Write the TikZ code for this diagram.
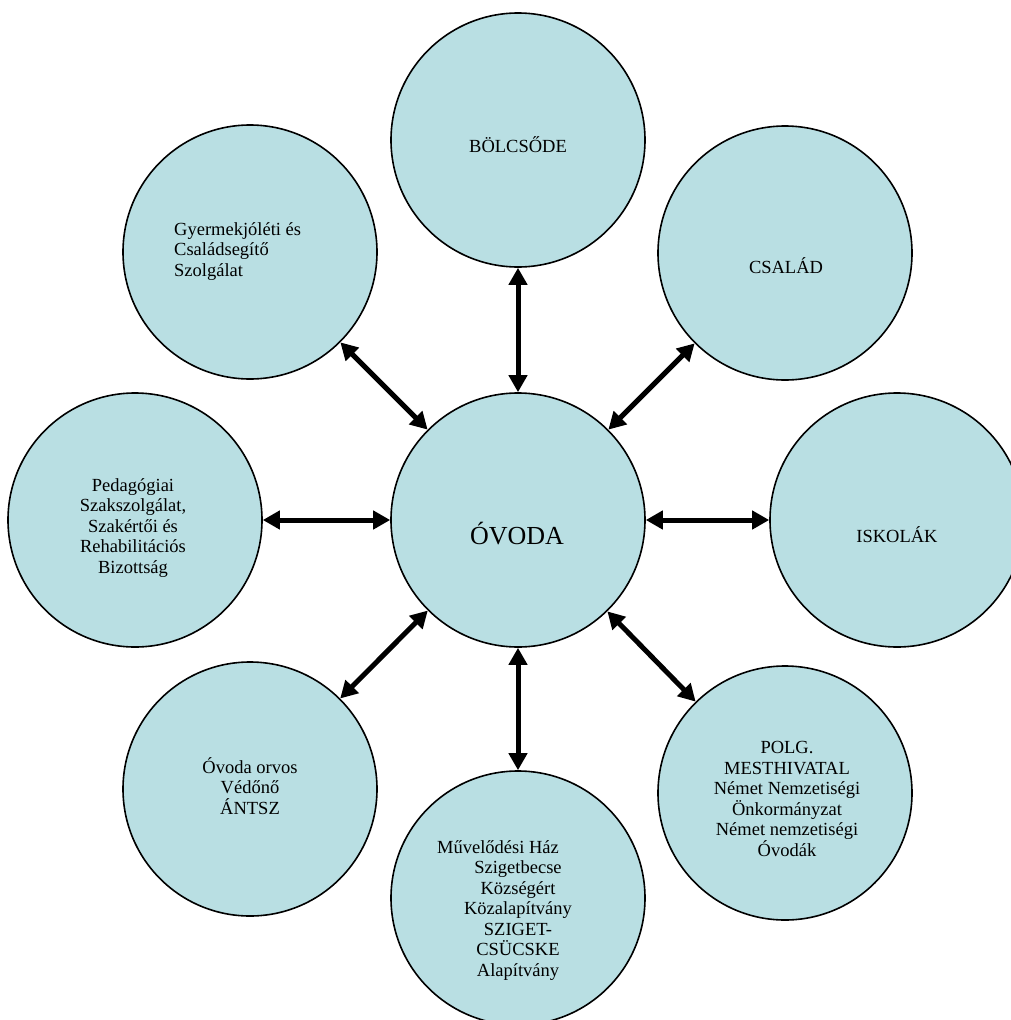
\documentclass[tikz,border=0pt]{standalone}
\usepackage{fontspec}
\setmainfont{Liberation Serif}
\usetikzlibrary{arrows.meta}
\definecolor{bubfill}{HTML}{B9DFE3}
\tikzset{
  bub/.style={circle, draw=black, line width=1.6pt, fill=bubfill, minimum size=254pt, inner sep=0pt},
  lbl/.style={font=\fontsize{18.5}{20.5}\selectfont, inner sep=0pt, anchor=base, align=center},
  biglbl/.style={font=\fontsize{26}{30}\selectfont, inner sep=0pt, anchor=base},
  link/.style={{Triangle[length=17pt,width=18pt]}-{Triangle[length=17pt,width=18pt]}, line width=5pt, black}
}
\begin{document}
\begin{tikzpicture}[x=1pt,y=1pt]
\useasboundingbox (0,0) rectangle (1011,-1020);
\clip (0,0) rectangle (1011,-1020);
% circles
\node[bub] (OV) at (518,-520) {};
\node[bub] (B)  at (518,-140) {};
\node[bub] (CS) at (785,-253) {};
\node[bub] (IS) at (897,-520) {};
\node[bub] (PO) at (785,-793) {};
\node[bub] (MU) at (518,-898) {};
\node[bub] (OR) at (250,-789) {};
\node[bub] (PE) at (135,-520) {};
\node[bub] (GY) at (250,-252) {};
% texts (base anchor = baseline of last line)
\node[biglbl] (tOV) at (517,-544) {ÓVODA};
\node[lbl] (tB)  at (518,-152) {BÖLCSŐDE};
\node[lbl] (tCS) at (786,-273) {CSALÁD};
\node[lbl] (tIS) at (897,-542) {ISKOLÁK};
\node[lbl] (tPO) at (787,-856) {POLG.\\MESTHIVATAL\\Német Nemzetiségi\\Önkormányzat\\Német nemzetiségi\\Óvodák};
\node[lbl] (tMU) at (518,-976) {Művelődési Ház\hspace*{40pt}\\Szigetbecse\\Községért\\Közalapítvány\\SZIGET-\\CSÜCSKE\\Alapítvány};
\node[lbl] (tOR) at (250,-814) {Óvoda orvos\\Védőnő\\ÁNTSZ};
\node[lbl] (tPE) at (133,-573) {Pedagógiai\\Szakszolgálat,\\Szakértői és\\Rehabilitációs\\Bizottság};
\node[lbl, align=left, anchor=base west] (tGY) at (174,-276) {Gyermekjóléti és\\Családsegítő\\Szolgálat};
% connectors
\draw[link] (B) -- (OV);
\draw[link] (CS) -- (OV);
\draw[link] (IS) -- (OV);
\draw[link] (PO) -- (OV);
\draw[link] (MU) -- (OV);
\draw[link] (OR) -- (OV);
\draw[link] (PE) -- (OV);
\draw[link] (GY) -- (OV);
\end{tikzpicture}
\end{document}
